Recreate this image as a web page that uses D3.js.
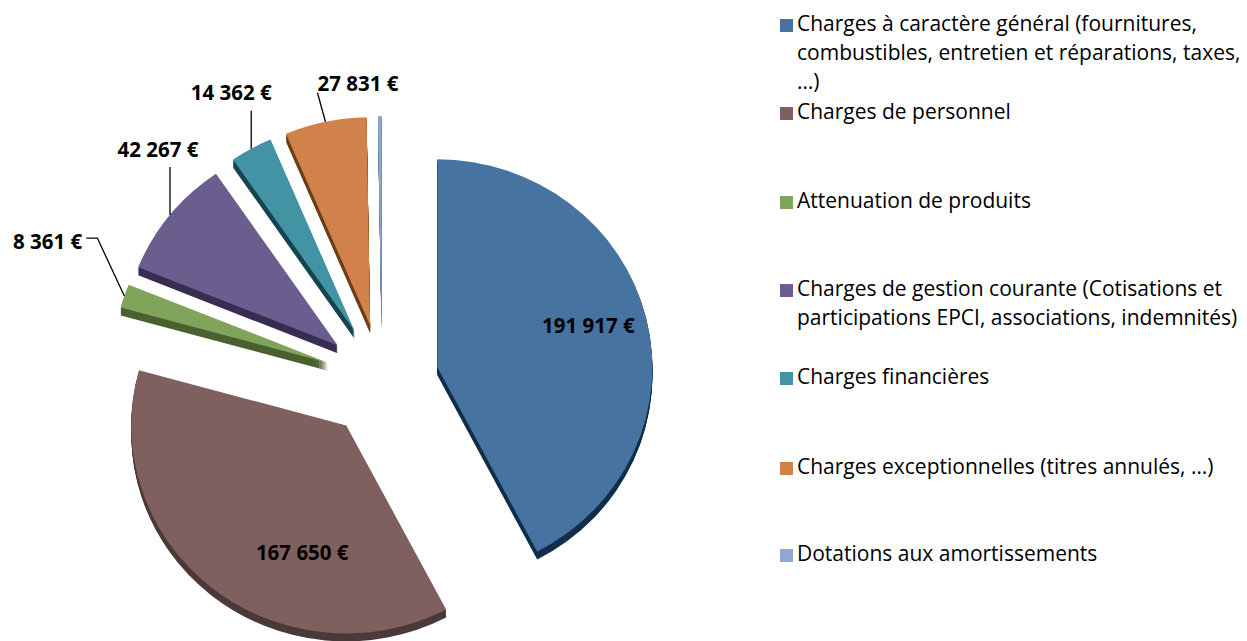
<!DOCTYPE html>
<html lang="fr"><head>
<meta charset="utf-8">
<title>Charges de fonctionnement</title>
<script src="https://cdnjs.cloudflare.com/ajax/libs/d3/7.8.5/d3.min.js"></script>
<style>
  body { margin: 0; background: #fff; }
  text { font-family: "Open Sans", Lato, sans-serif; fill: #000; }
</style>
</head>
<body>
<script>
// ---- data ----
var categories = [
  ["Charges à caractère général (fournitures,", "combustibles, entretien et réparations, taxes,", "…)"],
  ["Charges de personnel"],
  ["Attenuation de produits"],
  ["Charges de gestion courante (Cotisations et", "participations EPCI, associations, indemnités)"],
  ["Charges financières"],
  ["Charges exceptionnelles (titres annulés, …)"],
  ["Dotations aux amortissements"]
];
var values = [191917, 167650, 8361, 42267, 14362, 27831, 1200];
var showValue = [true, true, true, true, true, true, false];
var topColors  = ["#46739f", "#80605f", "#80a45a", "#6b5e8e", "#4294a5", "#d1824a", "#8ea8d0"];
var sideColors = ["#132f4a", "#4b3a3a", "#4a6230", "#382e52", "#164550", "#6e3f15", "#56709a"];

// ---- layout ----
var W = 1247, H = 641;
var cx = 382, cy = 381, rx = 215, ry = 208, explode = 57, depth = 8;
// label placement: inside -> offset from slice apex; outside -> leader from rim point
var labelLayout = [
  {type: "in", dx: 151, dy: -40},
  {type: "in", dx: -44, dy: 129},
  {type: "out", leader: [[-27, -58], [-38, -58]], tx: -42, ty: -53, anchor: "end"},
  {type: "out", leader: [[0, -48]], tx: -12, ty: -63, anchor: "middle"},
  {type: "out", leader: [[0, -38]], tx: -20, ty: -54, anchor: "middle"},
  {type: "out", leader: [[-8, -29]], tx: -8, ty: -36, anchor: "start"},
  null
];
var legendY = [25, 113, 202, 290, 378, 468, 555];
var legendStep = 29;

var fmt = d3.formatLocale({decimal: ",", thousands: " ", grouping: [3], currency: ["", " €"]}).format("$,.0f");

var svg = d3.select("body").append("svg").attr("width", W).attr("height", H);

var data = values.map(function(v, i) { return {value: v, i: i}; });
var pie = d3.pie().sort(null).value(function(d) { return d.value; });
var slices = pie(data);
var arc = d3.arc().innerRadius(0).outerRadius(rx);
var k = ry / rx;

slices.forEach(function(s) {
  var mid = (s.startAngle + s.endAngle) / 2;
  s.ox = cx + explode * Math.sin(mid);
  s.oy = cy - explode * Math.cos(mid);
  s.rim = [s.ox + rx * Math.sin(mid), s.oy - ry * Math.cos(mid)];
});

var pieG = svg.append("g");
var sliceG = pieG.selectAll("g.slice").data(slices).enter().append("g").attr("class", "slice");

// extruded sides
sliceG.each(function(s) {
  var g = d3.select(this);
  g.selectAll("path.side").data(d3.range(depth, 0, -1)).enter().append("path")
    .attr("class", "side")
    .attr("transform", function(dy) { return "translate(" + s.ox + "," + (s.oy + dy) + ") scale(1," + k + ")"; })
    .attr("d", arc(s))
    .attr("fill", sideColors[s.data.i]);
});

// top faces
sliceG.append("path")
  .attr("transform", function(s) { return "translate(" + s.ox + "," + s.oy + ") scale(1," + k + ")"; })
  .attr("d", function(s) { return arc(s); })
  .attr("fill", function(s) { return topColors[s.data.i]; });

// value labels
slices.forEach(function(s) {
  var L = labelLayout[s.data.i];
  if (!L || !showValue[s.data.i]) return;
  var txt = fmt(s.data.value);
  if (L.type === "in") {
    svg.append("text")
      .attr("x", s.ox + L.dx).attr("y", s.oy + L.dy)
      .attr("text-anchor", "middle").attr("dominant-baseline", "middle")
      .attr("font-size", 20.5).attr("font-weight", "bold")
      .text(txt);
  } else {
    var pts = [s.rim].concat(L.leader.map(function(p) { return [s.rim[0] + p[0], s.rim[1] + p[1]]; }));
    svg.append("path")
      .attr("d", d3.line()(pts))
      .attr("fill", "none").attr("stroke", "#000").attr("stroke-width", 1.3);
    svg.append("text")
      .attr("x", s.rim[0] + L.tx).attr("y", s.rim[1] + L.ty)
      .attr("text-anchor", L.anchor).attr("dominant-baseline", "middle")
      .attr("font-size", 20.5).attr("font-weight", "bold")
      .text(txt);
  }
});

// legend
var legend = svg.append("g").attr("transform", "translate(780,0)");
var item = legend.selectAll("g.item").data(categories).enter().append("g")
  .attr("class", "item")
  .attr("transform", function(d, i) { return "translate(0," + legendY[i] + ")"; });
item.append("rect")
  .attr("x", 0).attr("y", -6).attr("width", 13).attr("height", 13)
  .attr("fill", function(d, i) { return topColors[i]; });
item.each(function(lines) {
  var t = d3.select(this).append("text")
    .attr("font-size", 21).attr("dominant-baseline", "middle");
  lines.forEach(function(line, j) {
    t.append("tspan").attr("x", 17).attr("y", j * legendStep).text(line);
  });
});
</script>
</body></html>
